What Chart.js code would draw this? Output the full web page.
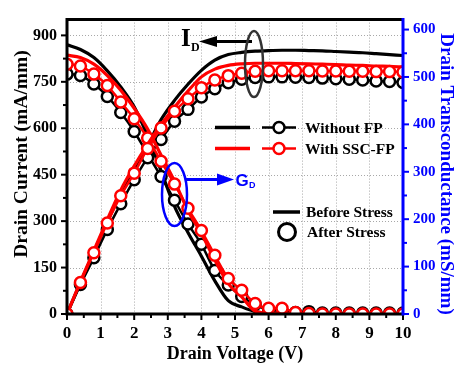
<!DOCTYPE html>
<html>
<head>
<meta charset="utf-8">
<script src="https://cdn.jsdelivr.net/npm/chart.js@4.4.0/dist/chart.umd.min.js"></script>
<style>
html,body{margin:0;padding:0;background:#fff;}
#wrap{width:454px;height:365px;position:relative;}
</style>
</head>
<body>
<div id="wrap"><canvas id="c" width="454" height="365"></canvas></div>
<script>
// ---- data ----
const voltage = [0,0.4,0.8,1.2,1.6,2,2.4,2.8,3.2,3.6,4,4.4,4.8,5.2,5.6,6,6.4,6.8,7.2,7.6,8,8.4,8.8,9.2,9.6,10];

// Drain current (mA/mm), left axis
const idWithoutFpBefore = [0,102,200,298,390,468,545,628,690,742,787,820,838,845,849,851,852,852,851,850,848,846,844,841,838,835];
const idWithoutFpAfter  = [0,95,182,273,356,434,505,564,623,661,701,728,747,758,764,766,766,765,764,762,760,758,756,753,751,748];
const idSscBefore       = [0,105,205,305,400,478,548,612,668,720,766,791,803,808,810,810,810,809,808,807,806,804,803,801,800,798];
const idSscAfter        = [0,102,198,294,382,455,535,601,655,695,731,756,770,778,784,786,786,786,786,785,785,784,784,783,783,782];

// Drain transconductance (mS/mm), right axis
const gdWithoutFpBefore = [568,558,541,513,479,437,375,302,227,172,122,70,28,15,5,1,0,0,0,0,0,0,0,0,0,0];
const gdWithoutFpAfter  = [506,503,485,459,425,385,337,290,240,190,147,92,61,37,20,9,7,3,5,2,2,2,2,2,2,2];
const gdSscBefore       = [546,541,527,503,472,434,390,335,280,218,170,114,64,36,6,2,1,0,0,0,0,0,0,0,0,0];
const gdSscAfter        = [527,523,506,482,447,412,371,322,274,223,176,124,75,50,22,12,12,3,1,0,0,0,0,0,0,0];

// tick labels
const voltageTicks = [0,1,2,3,4,5,6,7,8,9,10];
const currentTicks = [0,150,300,450,600,750,900];
const gmTicks = [0,100,200,300,400,500,600];

// legend / annotation / title texts
const seriesNames = ['Without FP','With SSC-FP'];
const stressNames = ['Before Stress','After Stress'];
const xTitle = 'Drain Voltage (V)';
const yLeftTitle = 'Drain Current (mA/mm)';
const yRightTitle = 'Drain Transconductance (mS/mm)';

const RED = '#ff0000', BLACK = '#000000', BLUE = '#0000ff';
const SERIF = "'Liberation Serif','Times New Roman',serif";
const SANS = "'Liberation Sans',Arial,sans-serif";

function pts(ys){ return voltage.map((v,i)=>({x:v,y:ys[i]})); }
function solid(label, ys, color, axis){
  return {label, data:pts(ys), yAxisID:axis, borderColor:color, backgroundColor:color,
    borderWidth:3.2, pointRadius:0, pointHoverRadius:0, cubicInterpolationMode:'monotone', fill:false};
}
function marked(label, ys, color, axis){
  return {label, data:pts(ys), yAxisID:axis, borderColor:color, backgroundColor:'#fff',
    borderWidth:2.5, pointRadius:5.5, pointHoverRadius:5.5, pointBorderWidth:2.5,
    pointBackgroundColor:'#fff', pointBorderColor:color, cubicInterpolationMode:'monotone', fill:false};
}

const decor = {
  id:'decor',
  beforeDatasetsDraw(chart){
    const {ctx, chartArea:a, scales} = chart;
    const x = scales.x, yl = scales.yI;
    ctx.save();
    ctx.strokeStyle = '#a8a8a8'; ctx.lineWidth = 1; ctx.setLineDash([1,2]);
    voltageTicks.forEach(v=>{ if(v<=0||v>=10) return; const px = Math.round(x.getPixelForValue(v))+0.5;
      ctx.beginPath(); ctx.moveTo(px,a.top); ctx.lineTo(px,a.bottom); ctx.stroke(); });
    currentTicks.forEach(v=>{ if(v<=0) return; const py = Math.round(yl.getPixelForValue(v))+0.5;
      ctx.beginPath(); ctx.moveTo(a.left,py); ctx.lineTo(a.right,py); ctx.stroke(); });
    ctx.restore();
  },
  afterDatasetsDraw(chart){
    const {ctx, chartArea:a, scales} = chart;
    const x = scales.x, yl = scales.yI, yr = scales.yG;
    ctx.save();
    ctx.setLineDash([]);
    // tick marks
    ctx.lineWidth = 2; ctx.strokeStyle = BLACK;
    for(let v=0; v<=10.001; v+=0.5){
      const px = x.getPixelForValue(v); const major = Math.abs(v-Math.round(v))<1e-6;
      ctx.beginPath(); ctx.moveTo(px,a.bottom); ctx.lineTo(px,a.bottom+(major?6:4)); ctx.stroke();
    }
    for(let v=0; v<=900; v+=75){
      const py = yl.getPixelForValue(v); const major = v%150===0;
      ctx.beginPath(); ctx.moveTo(a.left,py); ctx.lineTo(a.left-(major?6:4),py); ctx.stroke();
    }
    ctx.strokeStyle = BLUE;
    for(let v=0; v<=600; v+=50){
      const py = yr.getPixelForValue(v); const major = v%100===0;
      ctx.beginPath(); ctx.moveTo(a.right,py); ctx.lineTo(a.right+(major?6:4),py); ctx.stroke();
    }
    // frame
    ctx.lineWidth = 3; ctx.strokeStyle = BLACK;
    ctx.beginPath(); ctx.moveTo(a.right,a.top); ctx.lineTo(a.left,a.top); ctx.lineTo(a.left,a.bottom); ctx.lineTo(a.right,a.bottom); ctx.stroke();
    ctx.strokeStyle = BLUE;
    ctx.beginPath(); ctx.moveTo(a.right,a.top-1.5); ctx.lineTo(a.right,a.bottom+1.5); ctx.stroke();

    // axis titles
    ctx.fillStyle = BLACK; ctx.textAlign = 'center'; ctx.textBaseline = 'middle';
    ctx.font = 'bold 18px '+SERIF;
    ctx.fillText(xTitle, (a.left+a.right)/2, 354.5);
    ctx.save(); ctx.translate(22, 154); ctx.rotate(-Math.PI/2);
    ctx.font = 'bold 19.5px '+SERIF; ctx.fillText(yLeftTitle, 0, 0); ctx.restore();
    ctx.save(); ctx.translate(446, 174); ctx.rotate(Math.PI/2);
    ctx.fillStyle = BLUE; ctx.font = 'bold 19px '+SERIF; ctx.fillText(yRightTitle, 0, 0); ctx.restore();

    // series legend
    ctx.textAlign = 'left';
    const rows = [[BLACK,127.5],[RED,148.5]];
    rows.forEach(([c,y],i)=>{
      ctx.strokeStyle = c; ctx.lineWidth = 3.5;
      ctx.beginPath(); ctx.moveTo(215,y); ctx.lineTo(250,y); ctx.stroke();
      ctx.lineWidth = 2.5;
      ctx.beginPath(); ctx.moveTo(262,y); ctx.lineTo(296,y); ctx.stroke();
      ctx.beginPath(); ctx.arc(279,y,5.5,0,Math.PI*2); ctx.fillStyle='#fff'; ctx.fill(); ctx.stroke();
      ctx.fillStyle = BLACK; ctx.font = 'bold 15.5px '+SERIF; ctx.textBaseline='middle';
      ctx.fillText(seriesNames[i], 305, y+1);
    });
    // stress legend
    ctx.strokeStyle = BLACK; ctx.lineWidth = 3.5;
    ctx.beginPath(); ctx.moveTo(273,212); ctx.lineTo(300,212); ctx.stroke();
    ctx.fillStyle = BLACK; ctx.fillText(stressNames[0], 306, 213);
    ctx.lineWidth = 3;
    ctx.beginPath(); ctx.arc(287,232,8.5,0,Math.PI*2); ctx.stroke();
    ctx.fillText(stressNames[1], 307, 233);

    // I_D annotation
    ctx.textBaseline = 'alphabetic';
    ctx.font = 'bold 25px '+SERIF; ctx.fillStyle = BLACK;
    ctx.fillText('I', 181, 46);
    ctx.font = 'bold 12px '+SERIF;
    ctx.fillText('D', 191, 51);
    ctx.strokeStyle = BLACK; ctx.lineWidth = 3;
    ctx.beginPath(); ctx.moveTo(215,41.5); ctx.lineTo(252,41.5); ctx.stroke();
    ctx.beginPath(); ctx.moveTo(199,41.5); ctx.lineTo(217,36); ctx.lineTo(217,47); ctx.closePath(); ctx.fill();
    ctx.strokeStyle = '#333'; ctx.lineWidth = 2.5;
    ctx.beginPath(); ctx.ellipse(254,64,9,33,0,0,Math.PI*2); ctx.stroke();

    // G_D annotation
    ctx.strokeStyle = BLUE; ctx.fillStyle = BLUE; ctx.lineWidth = 2.5;
    ctx.beginPath(); ctx.ellipse(174.5,194.5,12.5,31.5,0,0,Math.PI*2); ctx.stroke();
    ctx.lineWidth = 3;
    ctx.beginPath(); ctx.moveTo(186,179.5); ctx.lineTo(219,179.5); ctx.stroke();
    ctx.beginPath(); ctx.moveTo(234,179.5); ctx.lineTo(217,173.5); ctx.lineTo(217,185.5); ctx.closePath(); ctx.fill();
    ctx.font = 'bold 17px '+SANS;
    ctx.fillText('G', 235.5, 185.5);
    ctx.font = 'bold 9px '+SANS;
    ctx.fillText('D', 249, 188);
    ctx.restore();
  }
};

new Chart(document.getElementById('c'), {
  type:'line',
  data:{ datasets:[
    marked('With SSC-FP after (ID)', idSscAfter, RED, 'yI'),
    solid('With SSC-FP before (ID)', idSscBefore, RED, 'yI'),
    marked('With SSC-FP after (GD)', gdSscAfter, RED, 'yG'),
    solid('With SSC-FP before (GD)', gdSscBefore, RED, 'yG'),
    marked('Without FP after (ID)', idWithoutFpAfter, BLACK, 'yI'),
    solid('Without FP before (ID)', idWithoutFpBefore, BLACK, 'yI'),
    marked('Without FP after (GD)', gdWithoutFpAfter, BLACK, 'yG'),
    solid('Without FP before (GD)', gdWithoutFpBefore, BLACK, 'yG')
  ]},
  options:{
    responsive:false, animation:false, devicePixelRatio:1,
    layout:{padding:{top:15,left:0,right:0,bottom:0}},
    plugins:{legend:{display:false}, tooltip:{enabled:false}},
    events:[],
    scales:{
      x:{type:'linear', position:'bottom', min:0, max:10, bounds:'data',
        afterFit(s){ s.height = 51; },
        afterBuildTicks(s){ s.ticks = voltageTicks.map(v=>({value:v})); },
        ticks:{color:BLACK, padding:9, font:{family:SERIF, size:17, weight:'bold'}, maxRotation:0, autoSkip:false},
        grid:{display:false, drawTicks:false}, border:{display:false},
        title:{display:false}
      },
      yI:{type:'linear', position:'left', min:0, max:951, bounds:'data',
        afterFit(s){ s.width = 67; },
        afterBuildTicks(s){ s.ticks = currentTicks.map(v=>({value:v})); },
        ticks:{color:BLACK, padding:10, font:{family:SERIF, size:16, weight:'bold'}},
        grid:{display:false, drawTicks:false}, border:{display:false},
        title:{display:false}
      },
      yG:{type:'linear', position:'right', min:0, max:621, bounds:'data',
        afterFit(s){ s.width = 51; },
        afterBuildTicks(s){ s.ticks = gmTicks.map(v=>({value:v})); },
        ticks:{color:BLUE, padding:10, font:{family:SERIF, size:15, weight:'bold'}},
        grid:{display:false, drawTicks:false}, border:{display:false},
        title:{display:false}
      }
    }
  },
  plugins:[decor]
});
</script>
</body>
</html>
